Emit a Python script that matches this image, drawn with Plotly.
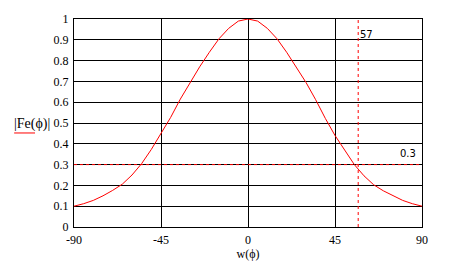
import plotly.graph_objects as go

phi = [-90, -85, -80, -75, -70, -65, -60, -55, -50, -45, -40, -35, -30, -25, -20, -15, -10, -5, 0,
       5, 10, 15, 20, 25, 30, 35, 40, 45, 50, 55, 60, 65, 70, 75, 80, 85, 90]
fe_abs = [0.100, 0.112, 0.128, 0.150, 0.176, 0.206, 0.250, 0.305, 0.373, 0.447, 0.527, 0.615, 0.695,
          0.770, 0.840, 0.905, 0.955, 0.990, 1.000,
          0.990, 0.955, 0.905, 0.840, 0.770, 0.695, 0.612, 0.522, 0.440, 0.367, 0.300, 0.246,
          0.203, 0.174, 0.149, 0.128, 0.112, 0.100]
x_ticks = [-90, -45, 0, 45, 90]
y_ticks = [0, 0.1, 0.2, 0.3, 0.4, 0.5, 0.6, 0.7, 0.8, 0.9, 1]
y_ticktext = ["0", "0.1", "0.2", "0.3", "0.4", "0.5", "0.6", "0.7", "0.8", "0.9", "1"]
marker_x = 57
marker_y = 0.3

fig = go.Figure()
fig.add_trace(go.Scatter(x=phi, y=fe_abs, mode="lines", line=dict(color="red", width=1),
                         showlegend=False, hoverinfo="skip"))

# dashed markers
fig.add_shape(type="line", xref="x", yref="y", x0=-90, x1=90, y0=marker_y, y1=marker_y,
              line=dict(color="red", width=1, dash="3px,3px"))
fig.add_shape(type="line", xref="x", yref="y", x0=marker_x, x1=marker_x, y0=0, y1=1,
              line=dict(color="red", width=1, dash="3px,3px"))

fig.add_annotation(x=marker_x, y=0.925, xref="x", yref="y", text=str(marker_x), showarrow=False,
                   xanchor="left", yanchor="middle",
                   font=dict(family="DejaVu Sans", size=10, color="black"))
fig.add_annotation(x=83, y=0.355, xref="x", yref="y", text=str(marker_y), showarrow=False,
                   xanchor="center", yanchor="middle",
                   font=dict(family="DejaVu Sans", size=10, color="black"))

# y-axis title with legend line
fig.add_annotation(x=-0.121, y=0.494, xref="paper", yref="paper", text="|Fe(\u03d5)|", showarrow=False,
                   xanchor="center", yanchor="middle",
                   font=dict(family="Liberation Serif", size=14, color="black"))
fig.add_shape(type="line", xref="paper", yref="paper", x0=-0.172, x1=-0.112, y0=0.452, y1=0.452,
              line=dict(color="red", width=1))

fig.update_layout(
    width=457, height=271,
    margin=dict(l=74, r=35, t=14, b=44),
    paper_bgcolor="white", plot_bgcolor="white",
    font=dict(family="Liberation Serif", size=12, color="black"),
    xaxis=dict(range=[-90, 90], tickvals=x_ticks,
               ticktext=[("-" + str(-v)) if v < 0 else str(v) for v in x_ticks],
               showgrid=True, gridcolor="black", gridwidth=1, zeroline=False,
               showline=True, linecolor="black", linewidth=1, mirror=True, ticks="",
               tickfont=dict(size=12), ticklabelstandoff=2,
               title=dict(text="w(\u03d5)", standoff=0, font=dict(size=12))),
    yaxis=dict(range=[0, 1], tickvals=y_ticks, ticktext=y_ticktext,
               showgrid=True, gridcolor="black", gridwidth=1, zeroline=False,
               showline=True, linecolor="black", linewidth=1, mirror=True, ticks="",
               tickfont=dict(size=12), ticklabelstandoff=2),
)

fig.write_html("out.html")
